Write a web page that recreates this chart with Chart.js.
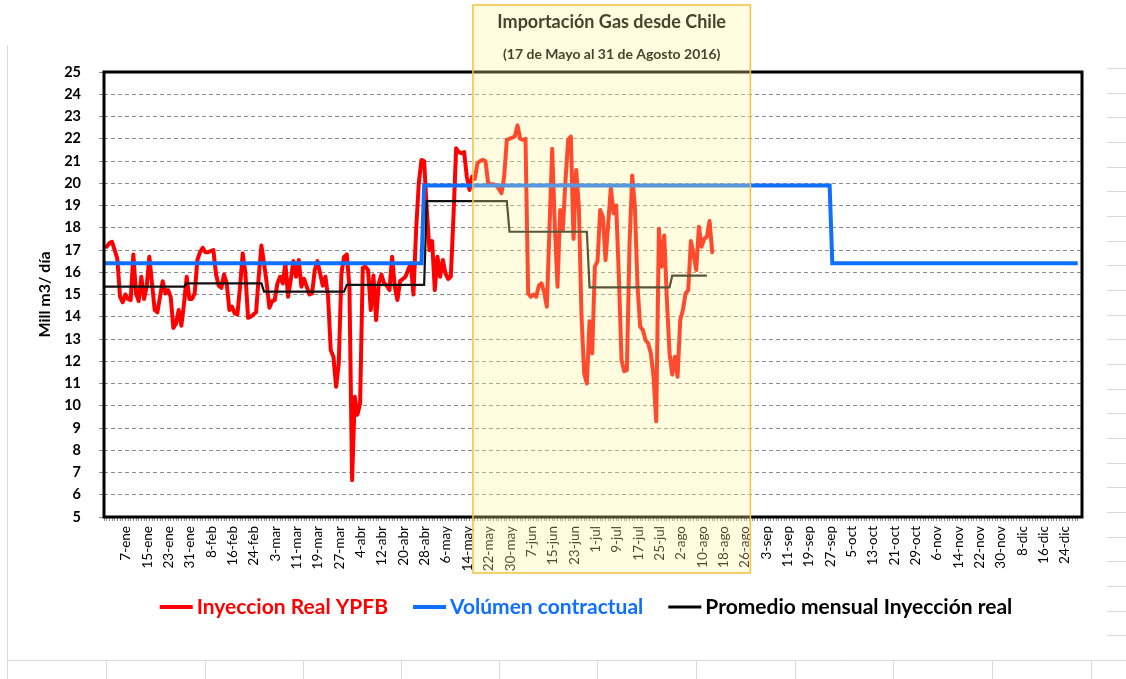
<!DOCTYPE html>
<html><head><meta charset="utf-8">
<script src="https://cdn.jsdelivr.net/npm/chart.js@4.4.0/dist/chart.umd.min.js"></script>
<style>html,body{margin:0;padding:0;background:#fff;}canvas{display:block;}</style>
</head><body>
<canvas id="c" width="1126" height="679"></canvas>
<script>
// ---- data (2016, day index 0 = 1-ene) ----
const daysInYear = 366;
const monthLengths = [31,29,31,30,31,30,31,31,30,31,30,31];
const tickLabels = ['7-ene','15-ene','23-ene','31-ene','8-feb','16-feb','24-feb','3-mar','11-mar','19-mar','27-mar','4-abr','12-abr','20-abr','28-abr','6-may','14-may','22-may','30-may','7-jun','15-jun','23-jun','1-jul','9-jul','17-jul','25-jul','2-ago','10-ago','18-ago','26-ago','3-sep','11-sep','19-sep','27-sep','5-oct','13-oct','21-oct','29-oct','6-nov','14-nov','22-nov','30-nov','8-dic','16-dic','24-dic'];
const firstTickDay = 6;
const tickStep = 8;

// Inyeccion Real YPFB, daily (Mill m3/dia)
const inyeccionReal = [
 null,17.15,17.3,17.37,17.0,16.6,14.9,14.65,15.0,14.8,
 14.75,16.8,15.05,14.7,15.8,14.8,15.35,16.7,15.5,14.3,
 14.2,14.9,15.6,15.05,15.2,14.9,13.5,13.7,14.3,13.6,
 14.6,15.8,14.8,14.8,15.05,16.55,16.9,17.1,16.9,16.9,
 16.95,17.0,15.9,15.4,15.3,15.9,15.5,14.3,14.45,14.15,
 14.1,15.35,16.85,15.95,13.95,14.0,14.1,14.2,15.8,17.2,
 16.4,15.5,14.4,14.7,14.75,15.5,15.8,15.5,16.4,14.9,
 15.65,16.5,15.8,16.55,15.35,15.7,15.35,15.0,15.05,16.1,
 16.5,15.95,15.4,15.8,14.9,12.5,12.2,10.85,11.9,15.95,
 16.7,16.8,15.35,6.65,10.4,9.6,10.1,16.2,16.25,16.1,
 14.3,15.85,13.85,15.5,15.9,15.5,15.4,15.2,16.7,15.35,
 14.75,15.6,15.7,15.8,16.1,16.4,15.0,17.9,20.0,21.05,
 21.0,18.8,17.0,17.4,15.2,16.7,15.8,16.55,15.95,15.7,
 15.8,18.5,21.57,21.4,21.35,21.4,20.3,19.7,20.3,20.2,
 20.9,21.0,21.05,21.0,20.0,19.95,19.95,19.9,19.75,19.55,
 20.3,21.95,22.0,22.05,22.1,22.6,22.0,21.95,22.0,15.05,
 14.9,15.0,14.9,15.4,15.5,15.1,14.45,18.0,21.55,18.05,
 15.35,18.8,17.9,20.15,21.95,22.1,17.5,20.6,18.95,14.0,
 11.45,11.0,13.8,12.35,16.25,16.5,18.8,18.5,16.55,18.2,
 19.8,18.65,19.0,15.8,12.05,11.55,11.6,17.3,20.35,18.95,
 15.35,13.55,13.4,12.95,12.8,12.35,11.3,9.3,17.95,16.25,
 17.65,14.75,12.35,11.4,12.2,11.3,13.85,14.3,15.05,15.2,
 17.4,16.8,16.1,18.05,17.15,17.5,17.6,18.3,16.9
];
// Promedio mensual Inyeccion real (ene..ago)
const promedioMensual = [15.35, 15.5, 15.13, 15.43, 19.2, 17.82, 15.32, 15.85];
const promedioLastDay = 226;
// Volumen contractual: value from start day onward
const contractValues = [16.4, 19.9, 16.4];
const contractStartDays = [0, 120, 273];
// highlighted period 17-may .. 31-ago
const highlightStartDay = 138.3;
const highlightEndDay = 242.3;
const boxTitle = 'Importación Gas desde Chile';
const boxSubtitle = '(17 de Mayo al 31 de Agosto 2016)';

// ---- build point lists ----
const redPts = [];
inyeccionReal.forEach((v, i) => { if (v !== null) redPts.push({x: i, y: v}); });
const blackPts = [];
let dd = 0;
for (let m = 0; m < promedioMensual.length; m++) {
  for (let k = 0; k < monthLengths[m] && dd <= promedioLastDay; k++, dd++) blackPts.push({x: dd, y: promedioMensual[m]});
}
const bluePts = [];
for (let d = 0; d < daysInYear; d++) {
  let idx = 0;
  for (let j = 0; j < contractStartDays.length; j++) if (d >= contractStartDays[j]) idx = j;
  bluePts.push({x: d, y: contractValues[idx]});
}

const RED = '#FF0000', BLUE = '#0F6FFF', BLACK = '#111111';
const FONT = 'Lato, "Open Sans", sans-serif';

const bgPlugin = {
  id: 'bg',
  beforeDraw(chart) {
    const ctx = chart.ctx;
    ctx.save();
    ctx.fillStyle = '#fff';
    ctx.fillRect(0, 0, chart.width, chart.height);
    ctx.strokeStyle = '#d9d9d9';
    ctx.lineWidth = 1;
    ctx.beginPath();
    ctx.moveTo(7.5, 45); ctx.lineTo(7.5, 679);
    ctx.moveTo(7, 660.5); ctx.lineTo(1126, 660.5);
    [106,205,303,401,499,597,696,795,893,992,1091].forEach(x => { ctx.moveTo(x + 0.5, 660); ctx.lineTo(x + 0.5, 679); });
    for (let k = 1; k <= 24; k++) { const y = Math.round(660 - 24.67 * k) + 0.5; ctx.moveTo(1107, y); ctx.lineTo(1126, y); }
    ctx.stroke();
    ctx.restore();
  }
};

const framePlugin = {
  id: 'frame',
  afterDatasetsDraw(chart) {
    const {ctx, chartArea: a} = chart;
    ctx.save();
    ctx.strokeStyle = '#000';
    ctx.lineWidth = 3;
    ctx.strokeRect(a.left, a.top, a.right - a.left, a.bottom - a.top);
    ctx.restore();
  },
  afterDraw(chart) {
    const ctx = chart.ctx;
    const xs = chart.scales.x;
    const x1 = xs.getPixelForValue(highlightStartDay);
    const x2 = xs.getPixelForValue(highlightEndDay);
    const y1 = 5, y2 = 573;
    ctx.save();
    ctx.fillStyle = 'rgba(255,246,150,0.30)';
    ctx.fillRect(x1, y1, x2 - x1, y2 - y1);
    ctx.strokeStyle = '#F5C040';
    ctx.lineWidth = 1.5;
    ctx.strokeRect(x1, y1, x2 - x1, y2 - y1);
    ctx.fillStyle = '#45452f';
    ctx.textAlign = 'center';
    ctx.textBaseline = 'middle';
    ctx.font = 'bold 18px ' + FONT;
    ctx.fillText(boxTitle, (x1 + x2) / 2, 22);
    ctx.font = 'bold 14px ' + FONT;
    ctx.fillText(boxSubtitle, (x1 + x2) / 2, 54);
    // legend
    const items = chart.data.datasets.map(ds => ({label: ds.label, color: ds.legendColor}));
    ctx.font = 'bold 21px ' + FONT;
    const lineW = 33, gapLT = 4, gapItems = 25;
    let total = 0;
    items.forEach((it, i) => { it.tw = ctx.measureText(it.label).width; total += lineW + gapLT + it.tw + (i ? gapItems : 0); });
    let x = 586 - total / 2;
    const y = 607;
    ctx.textAlign = 'left';
    items.forEach((it, i) => {
      if (i) x += gapItems;
      ctx.strokeStyle = it.color;
      ctx.lineWidth = i === 2 ? 3 : 4;
      ctx.beginPath(); ctx.moveTo(x, y); ctx.lineTo(x + lineW, y); ctx.stroke();
      x += lineW + gapLT;
      ctx.fillStyle = it.color;
      ctx.fillText(it.label, x, y);
      x += it.tw;
    });
    ctx.restore();
  }
};

new Chart(document.getElementById('c'), {
  type: 'line',
  data: {
    datasets: [
      {label: 'Inyeccion Real YPFB', data: redPts, borderColor: RED, legendColor: RED, borderWidth: 4, pointRadius: 0, tension: 0, borderJoinStyle: 'round', borderCapStyle: 'round', order: 3},
      {label: 'Volúmen contractual', data: bluePts, borderColor: BLUE, legendColor: BLUE, borderWidth: 4, pointRadius: 0, tension: 0, order: 2},
      {label: 'Promedio mensual Inyección real', data: blackPts, borderColor: BLACK, legendColor: '#000', borderWidth: 2.2, pointRadius: 0, tension: 0, order: 1}
    ]
  },
  options: {
    responsive: false,
    animation: false,
    devicePixelRatio: 1,
    layout: {padding: {left: 35, right: 44, top: 72, bottom: 92}},
    plugins: {legend: {display: false}, tooltip: {enabled: false}, title: {display: false}},
    scales: {
      x: {
        type: 'linear', min: 0, max: 366.6,
        afterBuildTicks(axis) { axis.ticks = Array.from({length: daysInYear}, (_, d) => ({value: d})); },
        afterFit(axis) { axis.height = 70; },
        ticks: {
          autoSkip: false, minRotation: 90, maxRotation: 90, padding: 5, labelOffset: 6,
          color: '#000', font: {family: FONT, size: 13.5},
          callback(value) {
            const k = (value - firstTickDay) / tickStep;
            return (Number.isInteger(k) && k >= 0 && k < tickLabels.length) ? tickLabels[k] : '';
          }
        },
        grid: {display: true, drawOnChartArea: false, drawTicks: true, tickLength: 4, tickColor: '#8c8c8c', lineWidth: 1, tickBorderDash: []},
        border: {display: false}
      },
      y: {
        min: 5, max: 25,
        afterFit(axis) { axis.width = 69; },
        ticks: {stepSize: 1, color: '#000', padding: 18, font: {family: FONT, size: 14.5, weight: 'bold'}},
        grid: {color: '#8c8c8c', lineWidth: 1, tickLength: 5, tickColor: '#8c8c8c', tickBorderDash: []},
        border: {display: false, dash: [4, 3]},
        title: {display: true, text: 'Mill m3/ día', color: '#000', padding: {top: 0, bottom: 0}, font: {family: FONT, size: 16, weight: 'bold'}}
      }
    }
  },
  plugins: [bgPlugin, framePlugin]
});
</script>
</body></html>
